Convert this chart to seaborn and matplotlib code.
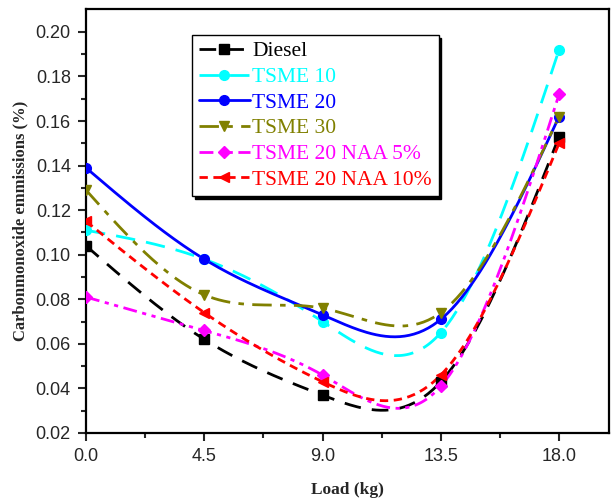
# CO emissions vs load, smooth spline curves (Origin style)
import numpy as np
import matplotlib
matplotlib.use('Agg')
import matplotlib.pyplot as plt
import seaborn as sns

# data
load = [0.0, 4.5, 9.0, 13.5, 18.0]
diesel = [0.104, 0.062, 0.037, 0.043, 0.153]
tsme10 = [0.111, 0.098, 0.070, 0.065, 0.192]
tsme20 = [0.139, 0.098, 0.073, 0.071, 0.162]
tsme30 = [0.129, 0.082, 0.076, 0.074, 0.162]
naa5 = [0.081, 0.066, 0.046, 0.041, 0.172]
naa10 = [0.115, 0.074, 0.043, 0.046, 0.150]

labels = ['Diesel', 'TSME 10', 'TSME 20', 'TSME 30', 'TSME 20 NAA 5%', 'TSME 20 NAA 10%']
xticks = [0.0, 4.5, 9.0, 13.5, 18.0]
xticklabels = ['0.0', '4.5', '9.0', '13.5', '18.0']

# style of each series
styles = [
    dict(color='black', ls=(0, (6, 4)), marker='s'),
    dict(color='cyan', ls=(0, (7, 4)), marker='o'),
    dict(color='blue', ls='-', marker='o'),
    dict(color='#808000', ls=(0, (7, 3, 2, 3)), marker='v'),
    dict(color='magenta', ls=(0, (5, 2, 1.5, 2, 1.5, 2)), marker='D'),
    dict(color='red', ls=(0, (3, 2)), marker='<'),
]


# natural cubic spline, used only to draw the smooth connecting line
def spline(x, y, n=200):
    x = np.asarray(x, float)
    y = np.asarray(y, float)
    k = len(x)
    h = np.diff(x)
    A = np.zeros((k, k))
    r = np.zeros(k)
    A[0, 0] = 1
    A[-1, -1] = 1
    for i in range(1, k - 1):
        A[i, i - 1] = h[i - 1]
        A[i, i] = 2 * (h[i - 1] + h[i])
        A[i, i + 1] = h[i]
        r[i] = 3 * ((y[i + 1] - y[i]) / h[i] - (y[i] - y[i - 1]) / h[i - 1])
    c = np.linalg.solve(A, r)
    xs = np.linspace(x[0], x[-1], n)
    ys = np.empty_like(xs)
    for j, xv in enumerate(xs):
        i = min(np.searchsorted(x, xv, side='right') - 1, k - 2)
        b = (y[i + 1] - y[i]) / h[i] - h[i] * (2 * c[i] + c[i + 1]) / 3
        d = (c[i + 1] - c[i]) / (3 * h[i])
        t = xv - x[i]
        ys[j] = y[i] + b * t + c[i] * t ** 2 + d * t ** 3
    return xs, ys


sns.set_style('white')
plt.rcParams['font.family'] = ['Liberation Sans', 'DejaVu Sans']

fig, ax = plt.subplots(figsize=(6.11, 4.99), dpi=100)
fig.subplots_adjust(left=0.1408, right=0.9967, top=0.982, bottom=0.1323)

series = [diesel, tsme10, tsme20, tsme30, naa5, naa10]
handles = []
for vals, lab, st in zip(series, labels, styles):
    xs, ys = spline(load, vals)
    sns.lineplot(x=xs, y=ys, ax=ax, color=st['color'], linestyle=st['ls'], lw=2, sort=False)
    ms = 6 if st['marker'] == 'D' else 7
    ax.plot(load, vals, ls='none', marker=st['marker'], color=st['color'], ms=ms, zorder=3)
    h, = ax.plot([], [], color=st['color'], ls=st['ls'], lw=2, marker=st['marker'], ms=ms, label=lab)
    handles.append(h)

ax.set_xlim(0, 19.9)
ax.set_ylim(0.02, 0.2103)
ax.set_xticks(xticks)
ax.set_xticklabels(xticklabels)
ax.set_yticks(np.arange(0.02, 0.201, 0.02))
ax.set_yticklabels(['%.2f' % v for v in np.arange(0.02, 0.201, 0.02)])
ax.set_xticks([2.25, 6.75, 11.25, 15.75], minor=True)
ax.set_yticks(np.arange(0.03, 0.2, 0.02), minor=True)
ax.tick_params(axis='both', which='major', direction='out', length=6, width=1.5,
               labelsize=13, bottom=True, left=True, pad=5)
ax.tick_params(axis='both', which='minor', direction='out', length=3.5, width=1.5,
               bottom=True, left=True)
for sp in ax.spines.values():
    sp.set_linewidth(1.6)
    sp.set_color('black')

ax.set_xlabel('Load (kg)', fontsize=12.5, fontweight='bold', family='Liberation Serif', labelpad=12)
ax.set_ylabel('Carbonmonoxide emmissions (%)', fontsize=12, fontweight='bold',
              family='Liberation Serif', labelpad=5)

leg = ax.legend(handles=handles, loc='upper left', bbox_to_anchor=(0.203, 0.939),
                borderaxespad=0, frameon=True, shadow={'color': 'black', 'alpha': 1},
                fancybox=False, framealpha=1, edgecolor='black', labelcolor='linecolor',
                prop={'family': 'Liberation Serif', 'size': 15.5}, handlelength=2.4,
                handletextpad=0.1, labelspacing=0.26, borderpad=0.3)
leg.get_frame().set_linewidth(1.0)

fig.savefig('out.png', dpi=100)
